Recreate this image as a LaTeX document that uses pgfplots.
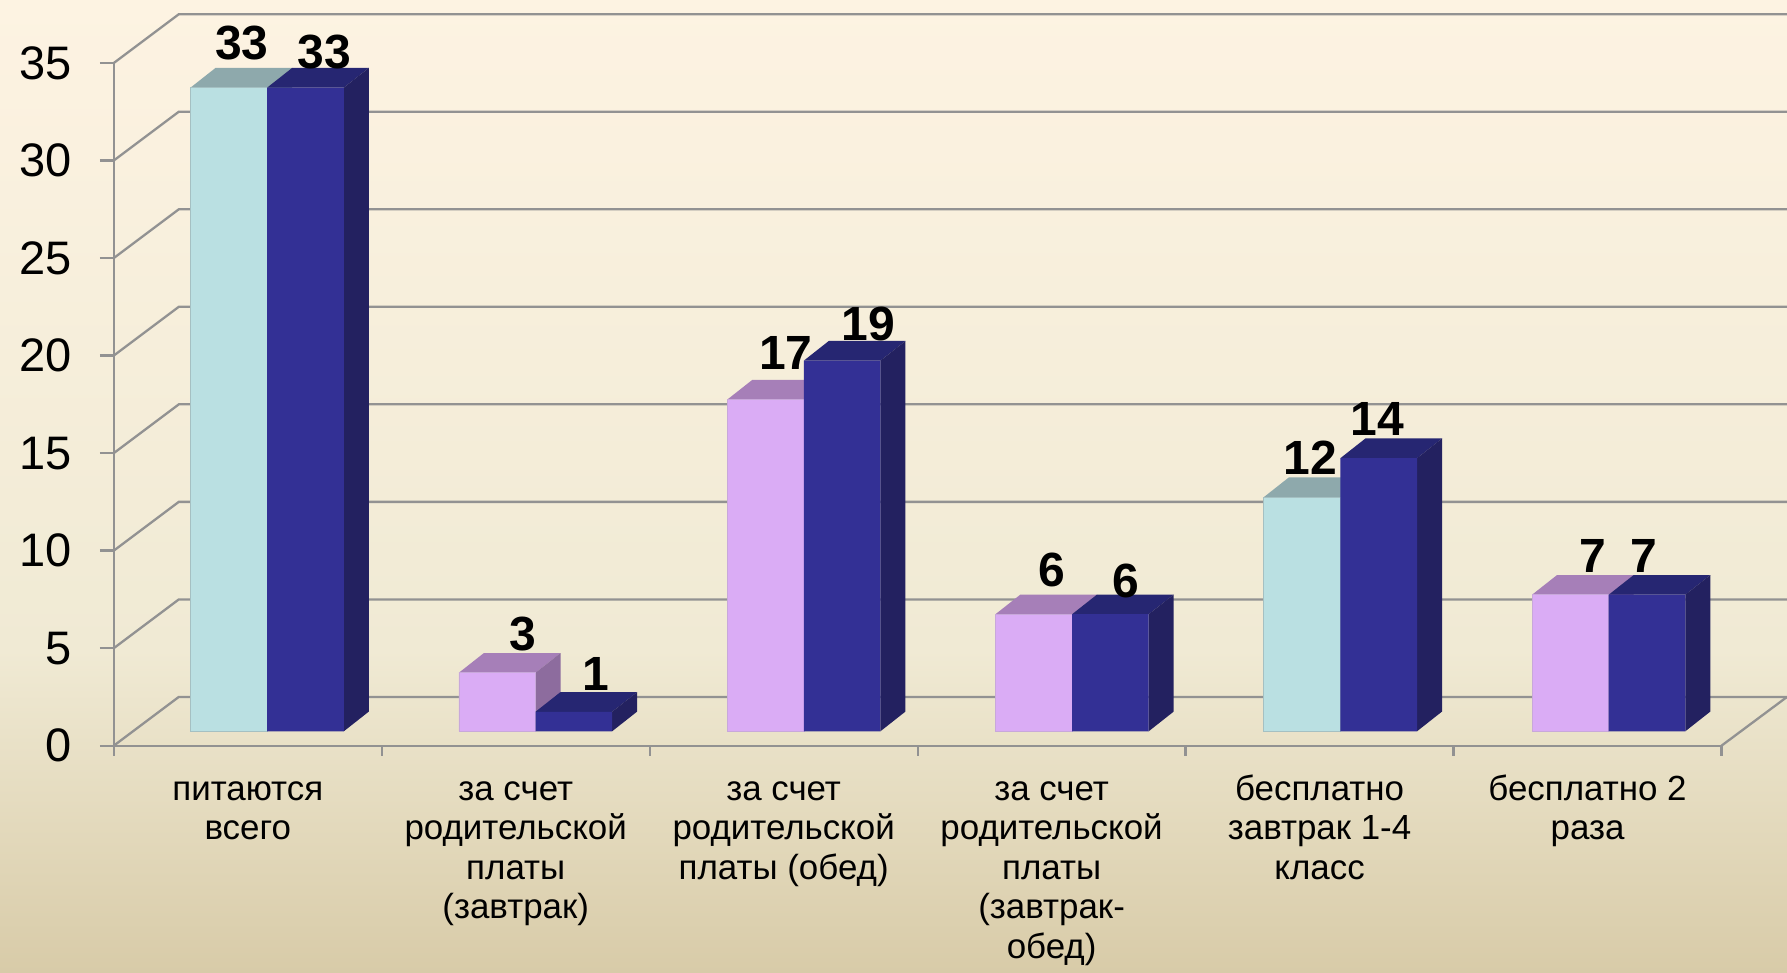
\documentclass[border=0pt]{standalone}
\usepackage{fontspec}
\usepackage{pgfplots}
\pgfplotsset{compat=1.18}
\setmainfont{Liberation Sans}
\definecolor{bgt}{HTML}{FDF3E2}
\definecolor{bgm}{HTML}{F0EAD4}
\definecolor{bgb}{HTML}{D8CBA8}
\definecolor{gridc}{HTML}{929292}
\definecolor{cyanf}{HTML}{BAE0E2}
\definecolor{cyane}{HTML}{A5C0C2}
\definecolor{cyant}{HTML}{8EA9AC}
\definecolor{cyans}{HTML}{7C9698}
\definecolor{lilf}{HTML}{DAACF5}
\definecolor{lile}{HTML}{C8A8DA}
\definecolor{lilt}{HTML}{A67FB8}
\definecolor{lils}{HTML}{8D6C9E}
\definecolor{navf}{HTML}{333095}
\definecolor{navt}{HTML}{262672}
\definecolor{navs}{HTML}{232160}
\pgfdeclareverticalshading{bgs}{100bp}{color(0bp)=(bgb); color(25bp)=(bgb); color(41.6bp)=(bgm); color(75bp)=(bgt); color(100bp)=(bgt)}
\newcommand{\faces}[4]{%
  \pgfmathsetmacro\xl{#1}%
  \pgfmathsetmacro\xr{#1+0.286}%
  \pgfmathsetmacro\xld{#1+0.0933}%
  \pgfmathsetmacro\xrd{#1+0.286+0.0933}%
  \pgfmathsetmacro\yt{#2+1.01}%
  \edef\tmp{\noexpand\addplot[fill=#3,draw=none,forget plot] coordinates {(\xl,#2)(\xld,\yt)(\xrd,\yt)(\xr,#2)} --cycle;
  \noexpand\addplot[fill=#4,draw=none,forget plot] coordinates {(\xr,0)(\xrd,1.01)(\xrd,\yt)(\xr,#2)} --cycle;}%
  \tmp}
\newcommand{\gline}[1]{%
  \pgfmathsetmacro\ya{#1}\pgfmathsetmacro\yb{#1+2.5}%
  \edef\tmp{\noexpand\addplot[gridc,line width=1.15pt,forget plot] coordinates {(-0.5,\ya)(-0.2574,\yb)(5.7445,\yb)};}%
  \tmp}
\newcommand{\vlab}[4]{\node[font=\fontsize{24}{24}\selectfont\bfseries,inner sep=0pt,xshift=#3*0.5pt,yshift=#4*0.5pt] at (axis cs:#1,#2) {#2};}
\begin{document}
\begin{tikzpicture}
\useasboundingbox (0,0) rectangle (893.5pt,486.5pt);
\path[shading=bgs] (0,0) rectangle (893.5pt,486.5pt);
\begin{axis}[
  at={(56.9pt,113.65pt)},anchor=south west,
  scale only axis,width=803.85pt,height=341.35pt,
  xmin=-0.5,xmax=5.5,ymin=-0.74,ymax=34.26,
  clip=false,
  axis x line=bottom,axis y line=left,
  axis line style={-,draw=gridc,line width=1.15pt},
  tick align=outside,
  tick style={draw=gridc,line width=1.15pt},
  major tick length=5pt,
  minor tick length=7pt,
  ytick={-0.74,4.26,9.26,14.26,19.26,24.26,29.26,34.26},
  minor ytick={-0.74,4.26,9.26,14.26,19.26,24.26,29.26,34.26},
  yticklabels={0,5,10,15,20,25,30,35},
  yticklabel style={font=\fontsize{23.5}{24}\selectfont,inner sep=0pt,xshift=-16pt},
  xtick={-0.5,0.5,1.5,2.5,3.5,4.5,5.5},
  xticklabels={},
  extra x ticks={0,1,2,3,4,5},
  extra x tick style={major tick length=0pt},
  extra x tick labels={{\strut питаются\\всего},{\strut за счет\\родительской\\платы\\(завтрак)},{\strut за счет\\родительской\\платы (обед)},{\strut за счет\\родительской\\платы\\(завтрак-\\обед)},{\strut бесплатно\\завтрак 1-4\\класс},{\strut бесплатно 2\\раза}},
  xticklabel style={font=\fontsize{17.45}{19.75}\selectfont,align=center,anchor=north,inner sep=0pt,yshift=-13.2pt},
]
% back wall and floor
\gline{-0.74}\gline{4.26}\gline{9.26}\gline{14.26}\gline{19.26}\gline{24.26}\gline{29.26}\gline{34.26}
\addplot[gridc,line width=1.15pt,forget plot] coordinates {(5.5,-0.74)(5.7445,1.76)};
% light series
\faces{-0.2134}{33}{cyant}{cyans}
\faces{0.7879}{3}{lilt}{lils}
\faces{1.7892}{17}{lilt}{lils}
\faces{2.7904}{6}{lilt}{lils}
\faces{3.7917}{12}{cyant}{cyans}
\faces{4.7930}{7}{lilt}{lils}
\addplot[ybar,bar width=0.286,bar shift=-0.0704,fill=cyanf,draw=cyane,line width=0.3pt] coordinates {(0,33)(4.0051,12)};
\addplot[ybar,bar width=0.286,bar shift=-0.0704,fill=lilf,draw=lile,line width=0.3pt] coordinates {(1.0013,3)(2.0026,17)(3.0038,6)(5.0064,7)};
% dark series
\faces{0.0726}{33}{navt}{navs}
\faces{1.0739}{1}{navt}{navs}
\faces{2.0752}{19}{navt}{navs}
\faces{3.0764}{6}{navt}{navs}
\faces{4.0777}{14}{navt}{navs}
\faces{5.0790}{7}{navt}{navs}
\addplot[ybar,bar width=0.286,bar shift=0.2156,fill=navf,draw=none] coordinates {(0,33)(1.0013,1)(2.0026,19)(3.0038,6)(4.0051,14)(5.0064,7)};
% value labels
\vlab{-0.0704}{33}{13}{45}
\vlab{0.2156}{33}{18.5}{36}
\vlab{0.9296}{3}{26}{39}
\vlab{1.2156}{1}{22.5}{38}
\vlab{1.9296}{17}{21}{46.7}
\vlab{2.2156}{19}{27}{36.5}
\vlab{2.9296}{6}{19}{44}
\vlab{3.2156}{6}{16.5}{33}
\vlab{3.9296}{12}{9.5}{39}
\vlab{4.2156}{14}{0}{39}
\vlab{4.9296}{7}{24.5}{39}
\vlab{5.2156}{7}{-1}{39}
\end{axis}
\end{tikzpicture}
\end{document}
